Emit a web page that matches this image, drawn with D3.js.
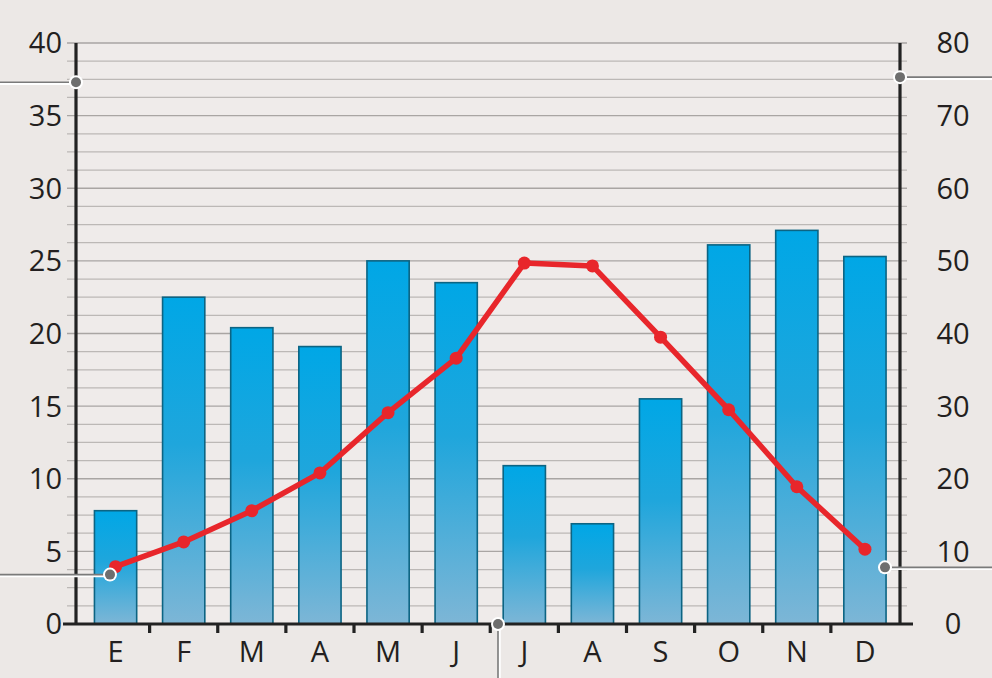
<!DOCTYPE html>
<html><head><meta charset="utf-8">
<script src="https://cdn.jsdelivr.net/npm/d3@7"></script>
<style>
html,body{margin:0;padding:0;background:#ece8e6;}
svg{display:block;font-family:"Open Sans",sans-serif;}
</style></head>
<body><svg id="c" width="992" height="678"></svg>
<script>
const months = ["E","F","M","A","M","J","J","A","S","O","N","D"];
const precip = [7.8,22.5,20.4,19.1,25.0,23.5,10.9,6.9,15.5,26.1,27.1,25.3];   // left axis (bars)
const temp = [7.9,11.3,15.6,20.8,29.1,36.6,49.7,49.3,39.5,29.5,18.9,10.3];    // right axis (line)
const leftTicks = [0,5,10,15,20,25,30,35,40];
const rightTicks = [0,10,20,30,40,50,60,70,80];

const svg = d3.select("#c");
const W = 992, H = 678;
const x0 = 76, x1 = 900, yTop = 43, yBot = 624;

const x = d3.scaleBand().domain(d3.range(12)).range([81.5, 899]).paddingInner(0.38).paddingOuter(0.19);
const yL = d3.scaleLinear().domain([0,40]).range([yBot, yTop]);
const yR = d3.scaleLinear().domain([0,80]).range([yBot, yTop]);

const defs = svg.append("defs");
const g = defs.append("linearGradient").attr("id","bg").attr("x1",0).attr("y1",0).attr("x2",0).attr("y2",1);
g.append("stop").attr("offset","0%").attr("stop-color","#00a7e6");
g.append("stop").attr("offset","45%").attr("stop-color","#1fa6dc");
g.append("stop").attr("offset","100%").attr("stop-color","#7db6d6");

svg.append("rect").attr("width",W).attr("height",H).attr("fill","#ece8e6");
svg.append("rect").attr("x",x0).attr("y",yTop).attr("width",x1-x0).attr("height",yBot-yTop).attr("fill","#efebea");

// gridlines every 1.25 (left units)
const grid = d3.range(1,33).map(i=>i*1.25);
svg.append("g").selectAll("line").data(grid).join("line")
  .attr("x1",67).attr("x2",907)
  .attr("y1",d=>yL(d)).attr("y2",d=>yL(d))
  .attr("stroke",d=> d%5===0 ? "#a9a5a3" : "#bcb8b6")
  .attr("stroke-width",1.3);

// bars
svg.append("g").selectAll("rect").data(precip).join("rect")
  .attr("x",(d,i)=>x(i)).attr("width",x.bandwidth())
  .attr("y",d=>yL(d)).attr("height",d=>yBot-yL(d))
  .attr("fill","url(#bg)").attr("stroke","#0c6483").attr("stroke-width",1.6);

// axes
const axisG = svg.append("g").attr("stroke","#222").attr("stroke-width",3.2);
axisG.append("line").attr("x1",x0).attr("x2",x0).attr("y1",yTop).attr("y2",yBot);
axisG.append("line").attr("x1",x1).attr("x2",x1).attr("y1",yTop).attr("y2",yBot);
axisG.append("line").attr("x1",63).attr("x2",913).attr("y1",yBot).attr("y2",yBot);
const step = x.step();
axisG.selectAll("line.t").data(d3.range(1,12)).join("line").attr("class","t")
  .attr("x1",i=>x(i)-(step-x.bandwidth())/2).attr("x2",i=>x(i)-(step-x.bandwidth())/2)
  .attr("y1",yBot).attr("y2",yBot+9);

// left labels
svg.append("g").selectAll("text").data(leftTicks).join("text")
  .attr("x",62).attr("y",d=>yL(d)).attr("dy","0.36em").attr("text-anchor","end")
  .attr("font-size",29).attr("fill","#231f20").text(d=>d);
// right labels
svg.append("g").selectAll("text").data(rightTicks).join("text")
  .attr("x",953).attr("y",d=>yR(d)).attr("dy","0.36em").attr("text-anchor","middle")
  .attr("font-size",29).attr("fill","#231f20").text(d=>d);
// month labels
svg.append("g").selectAll("text").data(months).join("text")
  .attr("x",(d,i)=>x(i)+x.bandwidth()/2).attr("y",662).attr("text-anchor","middle")
  .attr("font-size",29).attr("fill","#231f20").text(d=>d);

// temperature line
const cx = (i)=> x(i)+x.bandwidth()/2;
const line = d3.line().x((d,i)=>cx(i)).y(d=>yR(d));
svg.append("path").datum(temp).attr("d",line).attr("fill","none")
  .attr("stroke","#e8262b").attr("stroke-width",5.5).attr("stroke-linejoin","round");
svg.append("g").selectAll("circle").data(temp).join("circle")
  .attr("cx",(d,i)=>cx(i)).attr("cy",d=>yR(d)).attr("r",6.5).attr("fill","#e8262b");

// callouts
function callout(xa,ya,xb,yb){
  svg.append("line").attr("x1",xa).attr("y1",ya+1.5).attr("x2",xb).attr("y2",yb+1.5).attr("stroke","#fff").attr("stroke-width",2.5);
  svg.append("line").attr("x1",xa).attr("y1",ya).attr("x2",xb).attr("y2",yb).attr("stroke","#7a7a7a").attr("stroke-width",1.6);
  svg.append("circle").attr("cx",xa).attr("cy",ya).attr("r",7).attr("fill","#fff");
  svg.append("circle").attr("cx",xa).attr("cy",ya).attr("r",5).attr("fill","#6e6e6e");
}
callout(x0, yL(37.3), 0, yL(37.3));
callout(x1, yR(75.3), W, yR(75.3));
callout(110, yL(3.4), 0, yL(3.4));
callout(885, yR(7.8), W, yR(7.8));
svg.append("line").attr("x1",499.5).attr("y1",yBot).attr("x2",499.5).attr("y2",H).attr("stroke","#fff").attr("stroke-width",2.5);
svg.append("line").attr("x1",498).attr("y1",yBot).attr("x2",498).attr("y2",H).attr("stroke","#7a7a7a").attr("stroke-width",1.6);
svg.append("circle").attr("cx",498).attr("cy",yBot).attr("r",7).attr("fill","#fff");
svg.append("circle").attr("cx",498).attr("cy",yBot).attr("r",5).attr("fill","#6e6e6e");
</script></body></html>
